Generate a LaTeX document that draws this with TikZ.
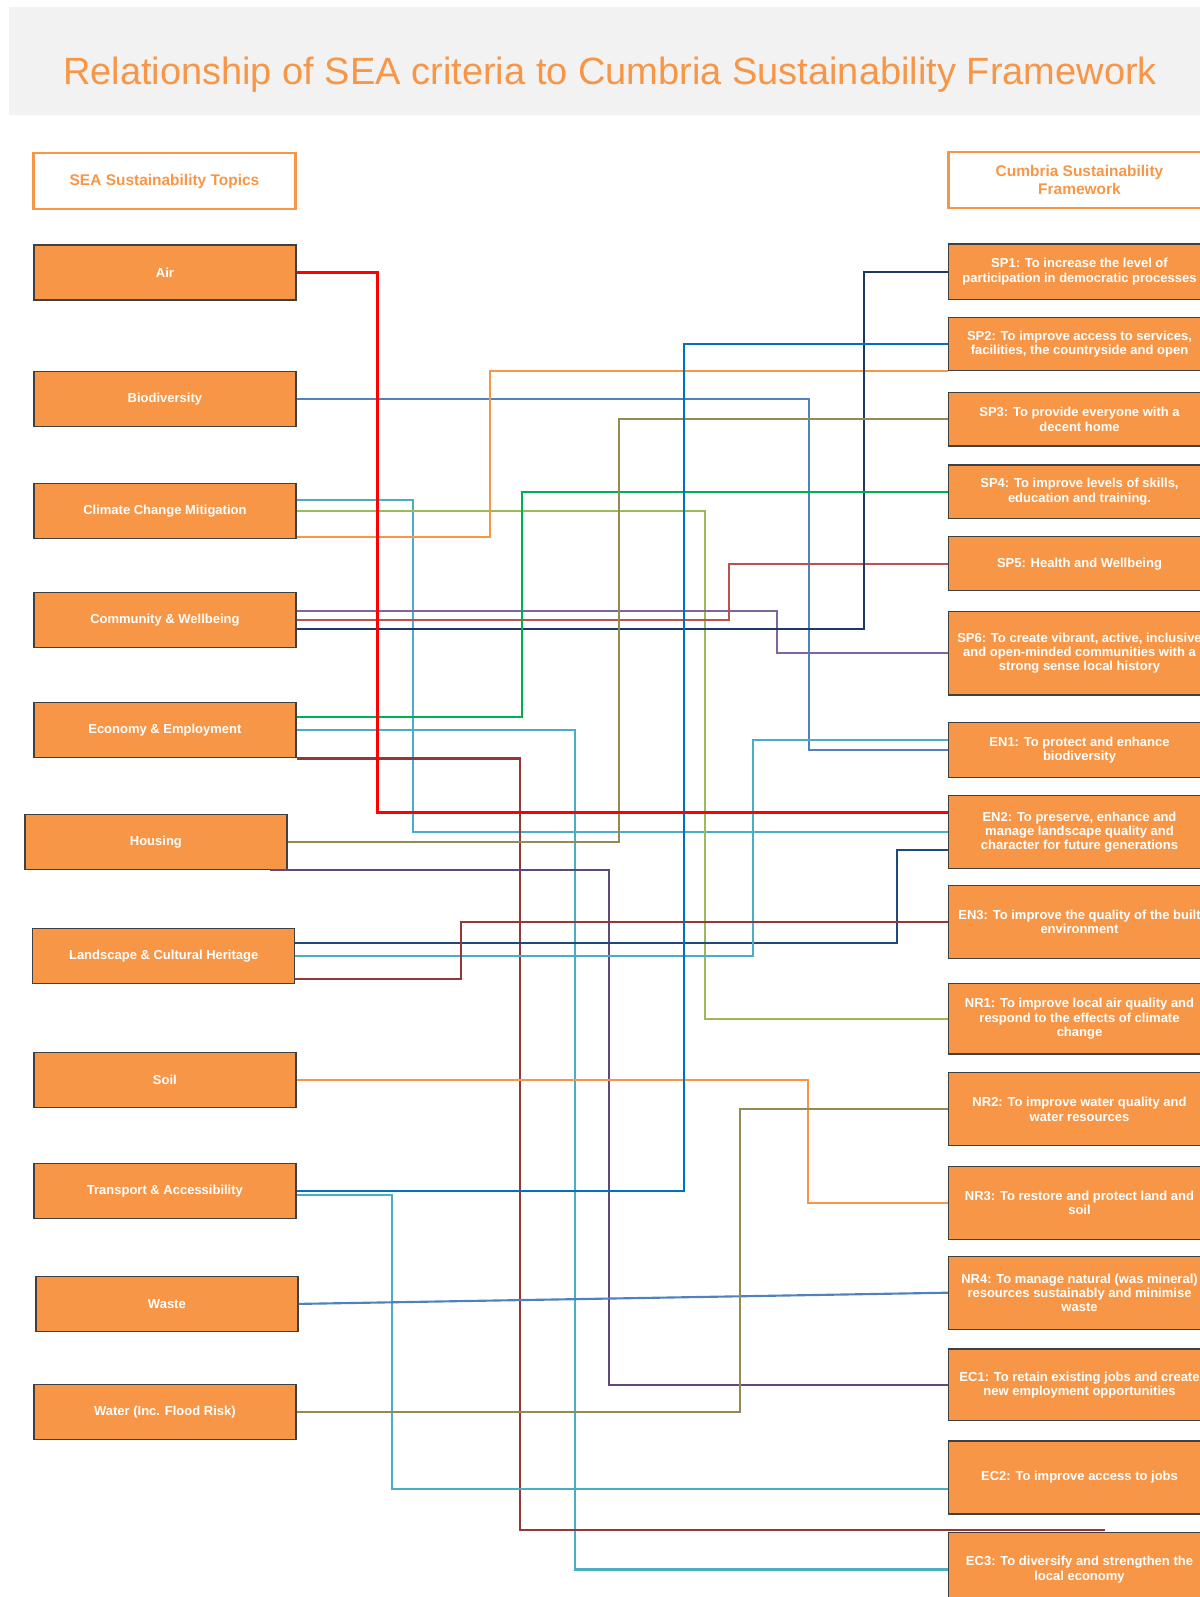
\documentclass[tikz,border=0pt]{standalone}
\usepackage{fontspec}
\setmainfont{Liberation Sans}
\usetikzlibrary{calc}

\definecolor{sea}{RGB}{247,150,70}
\definecolor{titlebg}{RGB}{242,242,242}
\definecolor{boxline}{RGB}{64,64,64}
\definecolor{cRed}{RGB}{255,0,0}
\definecolor{cSteel}{RGB}{79,129,189}
\definecolor{cAqua}{RGB}{75,172,198}
\definecolor{cLime}{RGB}{155,187,89}
\definecolor{cPurple}{RGB}{128,100,162}
\definecolor{cPlum}{RGB}{95,73,122}
\definecolor{cRose}{RGB}{192,80,77}
\definecolor{cNavy}{RGB}{31,56,100}
\definecolor{cNavyB}{RGB}{31,73,125}
\definecolor{cGreen}{RGB}{0,176,80}
\definecolor{cMaroon}{RGB}{149,55,53}
\definecolor{cOlive}{RGB}{148,138,84}
\definecolor{cBlue}{RGB}{0,112,192}

\newcommand{\boxfont}{\fontsize{9.75}{10.75}\selectfont\bfseries}
\newcommand{\headfont}{\fontsize{11.6}{13.7}\selectfont\bfseries}

\tikzset{
  topicbox/.style={draw=boxline, fill=sea, line width=1pt, minimum width=196.5pt,
    minimum height=41.25pt, inner xsep=0pt, text=white, font=\boxfont, align=center},
  aimbox/.style={topicbox, minimum height=54.75pt},
  headbox/.style={draw=sea, fill=white, line width=2.2pt, minimum width=196.5pt,
    minimum height=42pt, inner xsep=0pt, text=sea, font=\headfont, align=center},
  link/.style={line width=1.6pt},
}

\begin{document}
\begin{tikzpicture}[x=0.75pt,y=0.75pt,yscale=-1,xscale=1]
\useasboundingbox (0,0) rectangle (1200,1597);

%Shape: Rectangle
\fill[titlebg] (9,7) rectangle (1200,115);
% Text Node
\node[text=sea, font=\fontsize{28.5}{32}\selectfont] (title) at (610,75) {Relationship of SEA criteria to Cumbria Sustainability Framework};

% Text Node
\node[headbox] (seahead) at (164.5,181) {SEA Sustainability Topics};
\node[headbox] (cumhead) at (1079.5,180) {Cumbria Sustainability\\Framework};

%Shape: Rectangle
\node[topicbox] (air) at (164.9,272.5) {Air};
\node[topicbox] (bio) at (164.9,399.2) {Biodiversity};
\node[topicbox] (clim) at (164.9,511.3) {Climate Change Mitigation};
\node[topicbox] (comm) at (164.9,619.8) {Community \& Wellbeing};
\node[topicbox] (econ) at (164.9,730.3) {Economy \& Employment};
\node[topicbox] (house) at (155.9,842) {Housing};
\node[topicbox] (land) at (163.7,955.8) {Landscape \& Cultural Heritage};
\node[topicbox] (soil) at (164.9,1080.3) {Soil};
\node[topicbox] (trans) at (164.9,1191) {Transport \& Accessibility};
\node[topicbox] (waste) at (166.9,1303.9) {Waste};
\node[topicbox] (water) at (164.9,1412) {Water (Inc. Flood Risk)};

%Shape: Rectangle
\node[topicbox, minimum height=41.5pt] (sp1) at (1079.5,271.7) {SP1: To increase the level of\\participation in democratic processes};
\node[topicbox, minimum height=39.75pt] (sp2) at (1079.5,344.2) {SP2: To improve access to services,\\facilities, the countryside and open};
\node[topicbox, minimum height=40.25pt] (sp3) at (1079.5,419.2) {SP3: To provide everyone with a\\decent home};
\node[topicbox, minimum height=40pt] (sp4) at (1079.5,491.7) {SP4: To improve levels of skills,\\education and training.};
\node[topicbox, minimum height=40.5pt] (sp5) at (1079.5,563.7) {SP5: Health and Wellbeing};
\node[topicbox, minimum height=62.5pt] (sp6) at (1079.5,653.3) {SP6: To create vibrant, active, inclusive\\and open-minded communities with a\\strong sense local history};
\node[topicbox] (en1) at (1079.5,749.8) {EN1: To protect and enhance\\biodiversity};
\node[aimbox] (en2) at (1079.5,832.3) {EN2: To preserve, enhance and\\manage landscape quality and\\character for future generations};
\node[aimbox] (en3) at (1079.5,921.7) {EN3: To improve the quality of the built\\environment};
\node[aimbox, minimum height=53pt] (nr1) at (1079.5,1018.7) {NR1: To improve local air quality and\\respond to the effects of climate\\change};
\node[aimbox] (nr2) at (1079.5,1109.2) {NR2: To improve water quality and\\water resources};
\node[aimbox] (nr3) at (1079.5,1202.8) {NR3: To restore and protect land and\\soil};
\node[aimbox] (nr4) at (1079.5,1292.7) {NR4: To manage natural (was mineral)\\resources sustainably and minimise\\waste};
\node[aimbox, minimum height=53.75pt] (ec1) at (1079.5,1384.8) {EC1: To retain existing jobs and create\\new employment opportunities};
\node[aimbox] (ec2) at (1079.5,1477.5) {EC2: To improve access to jobs};
\node[aimbox, minimum height=55.75pt] (ec3) at (1079.5,1569.5) {EC3: To diversify and strengthen the\\local economy};

\coordinate (ec3end) at ($(ec3.north west)+(157,-1.5)$);

%Straight Lines
\draw[link, cSteel] (bio.east) -- ++(512.3,0) |- (en1.west);
\draw[link, cAqua] ($(clim.east)+(0,-11.3)$) -- ++(116.4,0) |- (en2.west);
\draw[link, cLime] (clim.east) -- ++(408.2,0) |- (nr1.west);
\draw[link, sea] ($(clim.east)+(0,26)$) -- ++(193.1,0) |- (sp2.south west);
\draw[link, cPurple] ($(comm.east)+(0,-9)$) -- ++(480.6,0) |- (sp6.west);
\draw[link, cRose] (comm.east) -- ++(432.1,0) |- (sp5.west);
\draw[link, cNavy] ($(comm.east)+(0,9)$) -- ++(567.4,0) |- (sp1.west);
\draw[link, cGreen] ($(econ.east)+(0,-13.6)$) -- ++(225.2,0) |- (sp4.west);
\draw[link, cAqua] (econ.east) -- ++(278.1,0) |- (ec3.west);
\draw[link, cMaroon] (econ.south east) -- ++(223.4,0) |- (ec3end);
\draw[link, cOlive] (house.east) -- ++(331.3,0) |- (sp3.west);
\draw[link, cPlum] ($(house.south east)+(-17.6,0)$) -- ++(339.4,0) |- (ec1.west);
\draw[link, cNavyB] ($(land.east)+(0,-12.8)$) -- ++(602,0) |- ($(en2.west)+(0,17.7)$);
\draw[link, cAqua] (land.east) -- ++(458,0) |- ($(en1.west)+(0,-10)$);
\draw[link, cMaroon] ($(land.east)+(0,23.5)$) -- ++(165.3,0) |- (en3.west);
\draw[link, sea] (soil.east) -- ++(511,0) |- (nr3.west);
\draw[link, cBlue] (trans.east) -- ++(387.8,0) |- (sp2.west);
\draw[link, cAqua] ($(trans.east)+(0,4)$) -- ++(95.1,0) |- ($(ec2.west)+(0,11.8)$);
\draw[link, cSteel] (waste.east) -- (nr4.west);
\draw[link, cOlive] (water.east) -- ++(443.7,0) |- (nr2.west);
\draw[link, cRed, line width=2pt] (air.east) -- ++(80.6,0) |- ($(en2.west)+(0,-19.6)$);

\end{tikzpicture}
\end{document}
